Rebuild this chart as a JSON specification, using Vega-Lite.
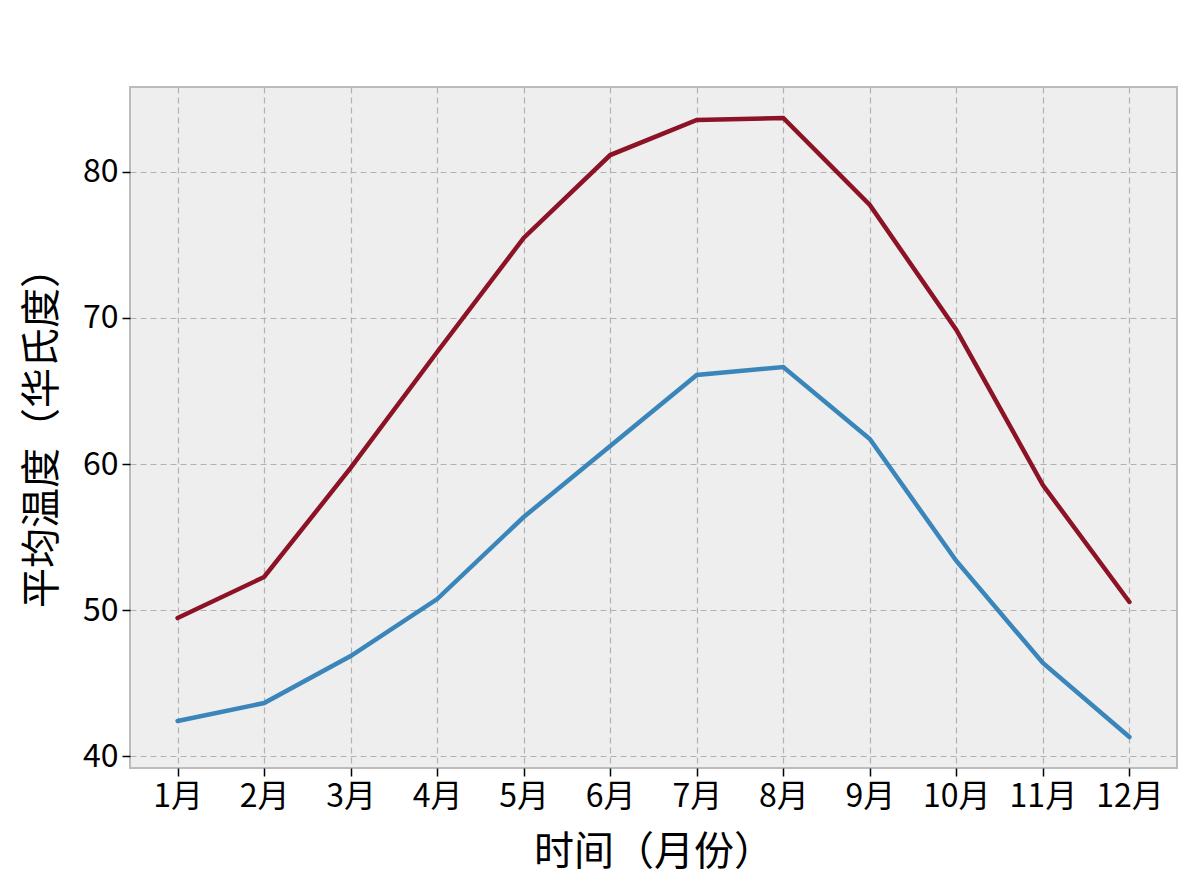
{
  "$schema": "https://vega.github.io/schema/vega-lite/v6.json",
  "width": 1047,
  "height": 681,
  "autosize": {"type": "none"},
  "padding": {"left": 130, "top": 87, "right": 23, "bottom": 128},
  "background": "#ffffff",
  "config": {
    "font": "Noto Sans CJK SC",
    "view": {"fill": "#eeeeee", "stroke": "#bcbcbc", "strokeWidth": 2},
    "axis": {
      "grid": true,
      "gridColor": "#b2b2b2",
      "gridDash": [6, 4],
      "gridWidth": 1.2,
      "domain": false,
      "tickColor": "#000000",
      "tickSize": 8,
      "tickWidth": 1.5,
      "labelFont": "Noto Sans CJK SC",
      "labelFontSize": 32,
      "labelColor": "#000000",
      "titleFont": "Noto Sans CJK SC",
      "titleFontSize": 40,
      "titleFontWeight": "normal",
      "titleColor": "#000000"
    }
  },
  "data": {
    "values": [
      {"month": 1, "temp": 49.45, "series": "high"},
      {"month": 2, "temp": 52.26, "series": "high"},
      {"month": 3, "temp": 59.73, "series": "high"},
      {"month": 4, "temp": 67.67, "series": "high"},
      {"month": 5, "temp": 75.48, "series": "high"},
      {"month": 6, "temp": 81.16, "series": "high"},
      {"month": 7, "temp": 83.56, "series": "high"},
      {"month": 8, "temp": 83.7, "series": "high"},
      {"month": 9, "temp": 77.74, "series": "high"},
      {"month": 10, "temp": 69.18, "series": "high"},
      {"month": 11, "temp": 58.56, "series": "high"},
      {"month": 12, "temp": 50.55, "series": "high"},
      {"month": 1, "temp": 42.4, "series": "low"},
      {"month": 2, "temp": 43.63, "series": "low"},
      {"month": 3, "temp": 46.85, "series": "low"},
      {"month": 4, "temp": 50.75, "series": "low"},
      {"month": 5, "temp": 56.37, "series": "low"},
      {"month": 6, "temp": 61.23, "series": "low"},
      {"month": 7, "temp": 66.1, "series": "low"},
      {"month": 8, "temp": 66.64, "series": "low"},
      {"month": 9, "temp": 61.71, "series": "low"},
      {"month": 10, "temp": 53.36, "series": "low"},
      {"month": 11, "temp": 46.37, "series": "low"},
      {"month": 12, "temp": 41.3, "series": "low"}
    ]
  },
  "mark": {"type": "line", "strokeWidth": 4.5, "strokeCap": "round"},
  "encoding": {
    "x": {
      "field": "month",
      "type": "quantitative",
      "title": "时间（月份）",
      "scale": {"domain": [0.45, 12.55], "nice": false, "zero": false},
      "axis": {
        "values": [1, 2, 3, 4, 5, 6, 7, 8, 9, 10, 11, 12],
        "labelExpr": "datum.value + '月'",
        "labelPadding": 5,
        "titlePadding": 20
      }
    },
    "y": {
      "field": "temp",
      "type": "quantitative",
      "title": "平均温度（华氏度）",
      "scale": {"domain": [39.18, 85.82], "nice": false, "zero": false},
      "axis": {
        "values": [40, 50, 60, 70, 80],
        "labelPadding": 4,
        "titlePadding": 20
      }
    },
    "color": {
      "field": "series",
      "type": "nominal",
      "scale": {"domain": ["high", "low"], "range": ["#8c1326", "#3a86ba"]},
      "legend": null
    }
  }
}
